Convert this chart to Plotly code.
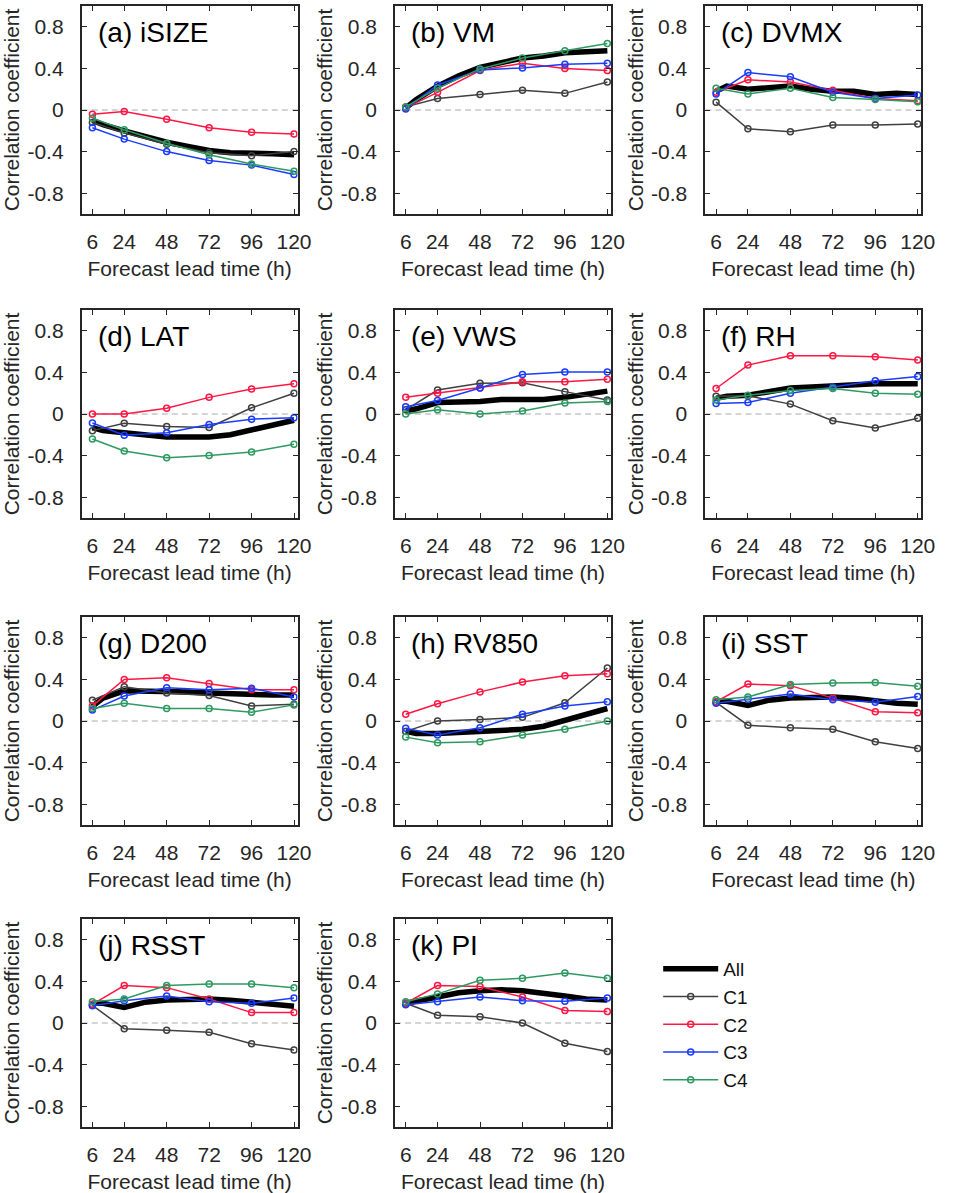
import plotly.graph_objects as go

# Forecast lead times (h): cluster curves use the sparse set, the "All" curve the dense set
LEAD_C = [6, 24, 48, 72, 96, 120]
LEAD_ALL = [6, 12, 24, 36, 48, 60, 72, 84, 96, 108, 120]

X_TICKS = [6, 24, 48, 72, 96, 120]
Y_TICKS = [-0.8, -0.4, 0, 0.4, 0.8]
Y_TICK_TEXT = ["-0.8", "-0.4", "0", "0.4", "0.8"]

SERIES_NAMES = ["All", "C1", "C2", "C3", "C4"]
PANEL_TITLES = ["(a) iSIZE", "(b) VM", "(c) DVMX", "(d) LAT", "(e) VWS", "(f) RH",
                "(g) D200", "(h) RV850", "(i) SST", "(j) RSST", "(k) PI"]

# (a) iSIZE
isize_all = [-0.10, -0.14, -0.20, -0.26, -0.31, -0.35, -0.39, -0.41, -0.41, -0.42, -0.43]
isize_c1 = [-0.12, -0.22, -0.33, -0.41, -0.44, -0.40]
isize_c2 = [-0.04, -0.015, -0.09, -0.17, -0.215, -0.23]
isize_c3 = [-0.17, -0.28, -0.40, -0.485, -0.53, -0.62]
isize_c4 = [-0.08, -0.19, -0.32, -0.43, -0.52, -0.59]

# (b) VM
vm_all = [0.02, 0.10, 0.23, 0.33, 0.41, 0.46, 0.50, 0.52, 0.55, 0.56, 0.57]
vm_c1 = [0.03, 0.11, 0.15, 0.19, 0.16, 0.27]
vm_c2 = [0.02, 0.17, 0.38, 0.45, 0.40, 0.38]
vm_c3 = [0.01, 0.24, 0.385, 0.405, 0.44, 0.45]
vm_c4 = [0.03, 0.21, 0.395, 0.50, 0.57, 0.64]

# (c) DVMX
dvmx_all = [0.18, 0.23, 0.20, 0.22, 0.23, 0.20, 0.18, 0.18, 0.15, 0.16, 0.15]
dvmx_c1 = [0.075, -0.18, -0.21, -0.145, -0.145, -0.135]
dvmx_c2 = [0.17, 0.29, 0.27, 0.19, 0.11, 0.09]
dvmx_c3 = [0.155, 0.36, 0.32, 0.17, 0.11, 0.145]
dvmx_c4 = [0.21, 0.155, 0.21, 0.12, 0.10, 0.08]

# (d) LAT
lat_all = [-0.13, -0.16, -0.18, -0.20, -0.22, -0.22, -0.22, -0.20, -0.15, -0.10, -0.06]
lat_c1 = [-0.16, -0.09, -0.12, -0.13, 0.06, 0.20]
lat_c2 = [0.0, 0.0, 0.055, 0.16, 0.24, 0.29]
lat_c3 = [-0.086, -0.205, -0.18, -0.10, -0.05, -0.035]
lat_c4 = [-0.24, -0.355, -0.42, -0.40, -0.365, -0.29]

# (e) VWS
vws_all = [0.03, 0.05, 0.11, 0.11, 0.12, 0.14, 0.14, 0.14, 0.16, 0.19, 0.22]
vws_c1 = [0.04, 0.23, 0.295, 0.30, 0.215, 0.135]
vws_c2 = [0.16, 0.20, 0.25, 0.31, 0.31, 0.335]
vws_c3 = [0.07, 0.13, 0.25, 0.38, 0.405, 0.405]
vws_c4 = [0.0, 0.04, 0.0, 0.03, 0.105, 0.12]

# (f) RH
rh_all = [0.15, 0.17, 0.18, 0.22, 0.25, 0.26, 0.27, 0.29, 0.29, 0.29, 0.29]
rh_c1 = [0.17, 0.175, 0.095, -0.065, -0.135, -0.04]
rh_c2 = [0.245, 0.47, 0.56, 0.56, 0.55, 0.52]
rh_c3 = [0.10, 0.11, 0.20, 0.26, 0.32, 0.36]
rh_c4 = [0.135, 0.18, 0.225, 0.245, 0.20, 0.19]

# (g) D200
d200_all = [0.14, 0.22, 0.29, 0.29, 0.29, 0.28, 0.27, 0.26, 0.25, 0.25, 0.25]
d200_c1 = [0.20, 0.33, 0.27, 0.245, 0.145, 0.16]
d200_c2 = [0.145, 0.40, 0.415, 0.36, 0.30, 0.30]
d200_c3 = [0.105, 0.24, 0.32, 0.30, 0.315, 0.23]
d200_c4 = [0.12, 0.17, 0.12, 0.12, 0.085, 0.155]

# (h) RV850
rv850_all = [-0.10, -0.12, -0.12, -0.11, -0.11, -0.09, -0.08, -0.05, 0.01, 0.06, 0.12]
rv850_c1 = [-0.10, 0.0, 0.015, 0.035, 0.175, 0.51]
rv850_c2 = [0.065, 0.165, 0.28, 0.375, 0.435, 0.455]
rv850_c3 = [-0.07, -0.135, -0.065, 0.065, 0.145, 0.185]
rv850_c4 = [-0.155, -0.21, -0.20, -0.135, -0.08, 0.0]

# (i) SST
sst_all = [0.19, 0.19, 0.15, 0.20, 0.22, 0.23, 0.23, 0.22, 0.19, 0.17, 0.16]
sst_c1 = [0.18, -0.04, -0.065, -0.08, -0.20, -0.265]
sst_c2 = [0.185, 0.355, 0.34, 0.22, 0.09, 0.08]
sst_c3 = [0.17, 0.21, 0.26, 0.205, 0.18, 0.235]
sst_c4 = [0.205, 0.23, 0.35, 0.365, 0.37, 0.335]

# (j) RSST
rsst_all = [0.19, 0.19, 0.15, 0.20, 0.22, 0.23, 0.23, 0.22, 0.20, 0.17, 0.16]
rsst_c1 = [0.17, -0.055, -0.07, -0.09, -0.20, -0.26]
rsst_c2 = [0.18, 0.36, 0.34, 0.23, 0.10, 0.10]
rsst_c3 = [0.165, 0.215, 0.26, 0.205, 0.19, 0.24]
rsst_c4 = [0.205, 0.23, 0.36, 0.375, 0.375, 0.34]

# (k) PI
pi_all = [0.19, 0.21, 0.25, 0.29, 0.31, 0.32, 0.31, 0.29, 0.26, 0.23, 0.22]
pi_c1 = [0.19, 0.075, 0.06, 0.0, -0.195, -0.275]
pi_c2 = [0.19, 0.36, 0.35, 0.25, 0.12, 0.11]
pi_c3 = [0.175, 0.205, 0.25, 0.215, 0.21, 0.24]
pi_c4 = [0.205, 0.28, 0.41, 0.43, 0.48, 0.43]

PANEL_DATA = [
    (isize_all, [isize_c1, isize_c2, isize_c3, isize_c4]),
    (vm_all, [vm_c1, vm_c2, vm_c3, vm_c4]),
    (dvmx_all, [dvmx_c1, dvmx_c2, dvmx_c3, dvmx_c4]),
    (lat_all, [lat_c1, lat_c2, lat_c3, lat_c4]),
    (vws_all, [vws_c1, vws_c2, vws_c3, vws_c4]),
    (rh_all, [rh_c1, rh_c2, rh_c3, rh_c4]),
    (d200_all, [d200_c1, d200_c2, d200_c3, d200_c4]),
    (rv850_all, [rv850_c1, rv850_c2, rv850_c3, rv850_c4]),
    (sst_all, [sst_c1, sst_c2, sst_c3, sst_c4]),
    (rsst_all, [rsst_c1, rsst_c2, rsst_c3, rsst_c4]),
    (pi_all, [pi_c1, pi_c2, pi_c3, pi_c4]),
]

# Styling
FONT = "Arial, 'Liberation Sans', Helvetica, sans-serif"
AXIS_COLOR = "#262626"
ALL_COLOR = "#000000"
C_COLORS = ["#404040", "#FF1744", "#1A3CFF", "#2E9960"]

W, H = 953, 1193
COL_LEFT = [83, 401, 716]
ROW_TOP = [6, 310, 617, 919]
PW, PH = 219, 208

fig = go.Figure()
layout = dict(
    width=W, height=H,
    margin=dict(l=0, r=0, t=0, b=0),
    paper_bgcolor="white", plot_bgcolor="white",
    font=dict(family=FONT, color=AXIS_COLOR, size=20),
    showlegend=True,
    legend=dict(
        x=668 / W, y=1 - 950 / H, xanchor="left", yanchor="top",
        font=dict(family=FONT, size=19, color="#111111"),
        itemwidth=55, bgcolor="rgba(0,0,0,0)", tracegroupgap=0,
    ),
    shapes=[], annotations=[],
)

for i, (all_vals, c_vals) in enumerate(PANEL_DATA):
    n = i + 1
    row, col = divmod(i, 3)
    sfx = "" if n == 1 else str(n)
    xa, ya = f"x{sfx}", f"y{sfx}"
    left, top = COL_LEFT[col], ROW_TOP[row]

    axis_common = dict(
        showline=True, linecolor=AXIS_COLOR, linewidth=2, mirror="allticks",
        ticks="inside", ticklen=5, tickwidth=1, tickcolor=AXIS_COLOR,
        showgrid=False, zeroline=False,
        tickfont=dict(family=FONT, size=21, color=AXIS_COLOR),
    )
    layout[f"xaxis{sfx}"] = dict(
        axis_common,
        domain=[left / W, (left + PW) / W], anchor=ya,
        range=[0, 122], tickvals=X_TICKS, ticklabelstandoff=8,
        title=dict(text="Forecast lead time (h)", standoff=9,
                   font=dict(family=FONT, size=21, color=AXIS_COLOR)),
    )
    layout[f"yaxis{sfx}"] = dict(
        axis_common,
        domain=[1 - (top + PH) / H, 1 - top / H], anchor=xa,
        range=[-1, 1], tickvals=Y_TICKS, ticktext=Y_TICK_TEXT, ticklabelstandoff=12,
        title=dict(text="Correlation coefficient", standoff=2,
                   font=dict(family=FONT, size=21, color=AXIS_COLOR)),
    )

    layout["shapes"].append(dict(
        type="line", xref=f"{xa} domain", yref=ya, x0=0, x1=1, y0=0, y1=0,
        line=dict(color="#aaaaaa", width=1, dash="6px,4px"), layer="below",
    ))
    layout["annotations"].append(dict(
        text=PANEL_TITLES[i], xref=f"{xa} domain", yref=f"{ya} domain",
        x=14 / PW, y=1 - 26 / PH, xanchor="left", yanchor="middle",
        showarrow=False, font=dict(family=FONT, size=28, color="#000000"),
    ))

    fig.add_trace(go.Scatter(
        x=LEAD_ALL, y=all_vals, mode="lines", name=SERIES_NAMES[0],
        legendgroup=SERIES_NAMES[0], showlegend=(i == 0),
        line=dict(color=ALL_COLOR, width=5.5), xaxis=xa, yaxis=ya,
    ))
    for k, vals in enumerate(c_vals):
        fig.add_trace(go.Scatter(
            x=LEAD_C, y=vals, mode="lines+markers", name=SERIES_NAMES[k + 1],
            legendgroup=SERIES_NAMES[k + 1], showlegend=(i == 0),
            line=dict(color=C_COLORS[k], width=1.5),
            marker=dict(symbol="circle-open", size=6, color=C_COLORS[k],
                        line=dict(width=1.5, color=C_COLORS[k])),
            xaxis=xa, yaxis=ya,
        ))

fig.update_layout(**layout)
fig.write_html("out.html")
